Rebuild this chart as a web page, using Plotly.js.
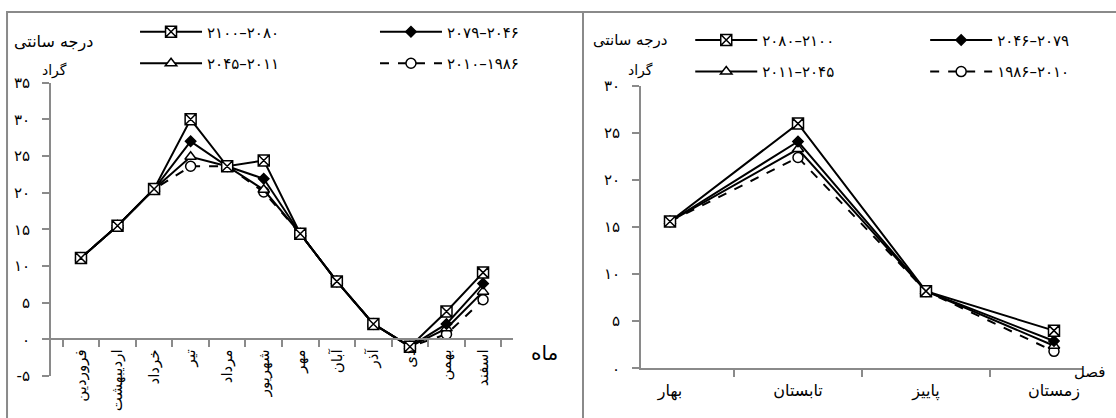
<!DOCTYPE html>
<html>
<head>
<meta charset="utf-8">
<script src="https://cdn.plot.ly/plotly-3.0.1.min.js"></script>
<style>
  html, body { margin: 0; padding: 0; background: #fff; }
  #chart { width: 1116px; height: 418px; }
</style>
</head>
<body>
<div id="chart"></div>
<script>
// محور افقی: ماه ها و فصل ها
var months = ['فروردین', 'اردیبهشت', 'خرداد', 'تیر', 'مرداد', 'شهریور', 'مهر', 'آبان', 'آذر', 'دی', 'بهمن', 'اسفند'];
var seasons = ['بهار', 'تابستان', 'پاییز', 'زمستان'];

// دمای ماهانه (درجه سانتی گراد)
var m2080 = [11.1, 15.5, 20.5, 30.0, 23.6, 24.4, 14.4, 7.9, 2.1, -1.0, 3.8, 9.1];
var m2046 = [11.1, 15.5, 20.5, 27.0, 23.6, 21.9, 14.4, 7.9, 2.1, -1.0, 2.1, 7.6];
var m2011 = [11.1, 15.5, 20.5, 24.9, 23.6, 20.4, 14.4, 7.9, 2.1, -1.0, 1.5, 6.5];
var m1986 = [11.1, 15.5, 20.5, 23.6, 23.6, 20.1, 14.4, 7.9, 2.1, -1.0, 0.7, 5.4];

// دمای فصلی
var s2080 = [15.6, 26.0, 8.2, 4.0];
var s2046 = [15.6, 24.1, 8.2, 2.9];
var s2011 = [15.6, 23.3, 8.2, 2.4];
var s1986 = [15.6, 22.4, 8.2, 1.8];

// برچسب ها
var namesLeft = ['۲۱۰۰–۲۰۸۰', '۲۰۷۹–۲۰۴۶', '۲۰۴۵–۲۰۱۱', '۲۰۱۰–۱۹۸۶'];
var namesRight = ['۲۰۸۰–۲۱۰۰', '۲۰۴۶–۲۰۷۹', '۲۰۱۱–۲۰۴۵', '۱۹۸۶–۲۰۱۰'];
var yValsLeft = [-5, 0, 5, 10, 15, 20, 25, 30, 35];
var yTextLeft = ['-۵', '۰', '۵', '۱۰', '۱۵', '۲۰', '۲۵', '۳۰', '۳۵'];
var yValsRight = [0, 5, 10, 15, 20, 25, 30];
var yTextRight = ['۰', '۵', '۱۰', '۱۵', '۲۰', '۲۵', '۳۰'];

var gray = '#8a8a8a';
var font = 'DejaVu Sans, sans-serif';

function serie(x, y, name, kind, xa, ya, leg, rank) {
    var st = {
        X:   {symbol: 'square-x', size: 11, color: 'white', dash: 'solid'},
        dia: {symbol: 'diamond', size: 8, color: 'black', dash: 'solid'},
        tri: {symbol: 'triangle-up', size: 10, color: 'white', dash: 'solid'},
        cir: {symbol: 'circle', size: 10, color: 'white', dash: 'dash'}
    }[kind];
    return {
        x: x, y: y, name: name, type: 'scatter', mode: 'lines+markers',
        xaxis: xa, yaxis: ya, legend: leg, legendgroup: xa + kind, legendrank: rank,
        line: {color: 'black', width: 2, dash: st.dash},
        marker: {symbol: st.symbol, size: st.size, color: st.color, line: {color: 'black', width: 1.5}},
        hoverinfo: 'x+y'
    };
}

// ترتیب رسم: دایره زیر، ضربدر بالا
var data = [
    serie(months, m1986, namesLeft[3], 'cir', 'x', 'y', 'legend2', 2),
    serie(months, m2011, namesLeft[2], 'tri', 'x', 'y', 'legend', 2),
    serie(months, m2046, namesLeft[1], 'dia', 'x', 'y', 'legend2', 1),
    serie(months, m2080, namesLeft[0], 'X', 'x', 'y', 'legend', 1),
    serie(seasons, s1986, namesRight[3], 'cir', 'x2', 'y2', 'legend4', 2),
    serie(seasons, s2011, namesRight[2], 'tri', 'x2', 'y2', 'legend3', 2),
    serie(seasons, s2046, namesRight[1], 'dia', 'x2', 'y2', 'legend4', 1),
    serie(seasons, s2080, namesRight[0], 'X', 'x2', 'y2', 'legend3', 1)
];

var axBase = {
    showline: true, linecolor: gray, linewidth: 2,
    ticks: 'outside', ticklen: 7, tickwidth: 2, tickcolor: gray,
    showgrid: false, zeroline: false, fixedrange: true,
    tickfont: {family: font, size: 15, color: 'black'}
};
function ax(extra) { return Object.assign({}, axBase, extra); }
function crossTicks(extra) {
    return Object.assign({
        showline: false, ticks: 'inside', ticklen: 7, tickwidth: 2, tickcolor: gray,
        showticklabels: false, showgrid: false, zeroline: false, fixedrange: true
    }, extra);
}

function legendAt(x, y) {
    return {
        x: x, y: y, xanchor: 'left', yanchor: 'top', orientation: 'v',
        traceorder: 'grouped', tracegroupgap: 9, itemwidth: 62,
        bgcolor: 'rgba(0,0,0,0)', itemclick: false, itemdoubleclick: false,
        font: {family: font, size: 15, color: 'black'}
    };
}

function note(text, x, y, size) {
    return {text: text, xref: 'paper', yref: 'paper', x: x, y: y, xanchor: 'center', yanchor: 'middle',
        showarrow: false, font: {family: font, size: size, color: 'black'}};
}

var layout = {
    width: 1116, height: 418,
    margin: {l: 0, r: 0, t: 0, b: 0},
    paper_bgcolor: 'white', plot_bgcolor: 'rgba(0,0,0,0)',
    font: {family: font, color: 'black'},
    showlegend: true,
    xaxis: ax({domain: [0.0457, 0.4597], type: 'category', anchor: 'free', position: 0.188,
        tickson: 'boundaries', tickangle: -90, ticklabelstandoff: 3}),
    yaxis: ax({domain: [0.1005, 0.8022], range: [-5, 35], anchor: 'x',
        tickmode: 'array', tickvals: yValsLeft, ticktext: yTextLeft, ticklabelstandoff: 9}),
    xaxis2: ax({domain: [0.5744, 0.9704], type: 'category', anchor: 'y2',
        tickson: 'boundaries', ticklabelstandoff: 7, tickfont: {family: font, size: 16, color: 'black'}}),
    yaxis2: ax({domain: [0.1189, 0.7943], range: [0, 30], anchor: 'x2',
        tickmode: 'array', tickvals: yValsRight, ticktext: yTextRight, ticklabelstandoff: 9}),
    xaxis3: crossTicks({overlaying: 'x', anchor: 'free', position: 0.188, type: 'category',
        categoryorder: 'array', categoryarray: months, range: [-0.5, 11.5], tickson: 'boundaries'}),
    yaxis3: crossTicks({overlaying: 'y', anchor: 'x3', range: [-5, 35], tickmode: 'array', tickvals: yValsLeft}),
    xaxis4: crossTicks({overlaying: 'x2', anchor: 'y4', type: 'category',
        categoryorder: 'array', categoryarray: seasons, range: [-0.5, 3.5], tickson: 'boundaries'}),
    yaxis4: crossTicks({overlaying: 'y2', anchor: 'x4', range: [0, 30], tickmode: 'array', tickvals: yValsRight}),
    legend: legendAt(0.121, 0.963),
    legend2: legendAt(0.336, 0.963),
    legend3: legendAt(0.6185, 0.943),
    legend4: legendAt(0.829, 0.943),
    shapes: [
        {type: 'rect', xref: 'paper', yref: 'paper', x0: 0.0063, x1: 1.01, y0: -0.02, y1: 0.9713,
            line: {color: gray, width: 2}},
        {type: 'line', xref: 'paper', yref: 'paper', x0: 0.5224, x1: 0.5224, y0: -0.02, y1: 0.9713,
            line: {color: gray, width: 2}}
    ],
    annotations: [
        note('درجه سانتی', 0.0475, 0.9, 16),
        note('گراد', 0.0484, 0.832, 14),
        note('ماه', 0.488, 0.155, 20),
        note('درجه سانتی', 0.5645, 0.905, 15),
        note('گراد', 0.5743, 0.832, 14),
        note('فصل', 0.9767, 0.11, 15)
    ]
};

Plotly.newPlot('chart', data, layout, {displayModeBar: false, staticPlot: true});
</script>
</body>
</html>
